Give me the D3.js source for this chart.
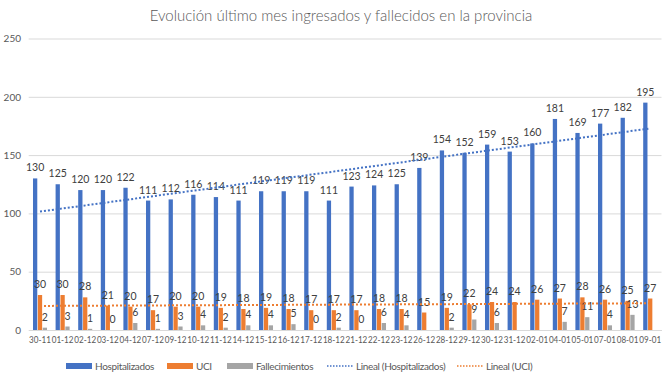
<!DOCTYPE html>
<html>
<head>
<meta charset="utf-8">
<script src="https://cdn.jsdelivr.net/npm/d3@7"></script>
<style>
    body { margin: 0; background: #fff; }
    svg { display: block; font-family: Lato, "Liberation Sans", sans-serif; }
</style>
</head>
<body>
<svg id="chart" width="670" height="377"></svg>
<script>
const fechas = ["30-11","01-12","02-12","03-12","04-12","07-12","09-12","10-12","11-12","14-12",
    "15-12","16-12","17-12","18-12","21-12","22-12","23-12","26-12","28-12","29-12",
    "30-12","31-12","02-01","04-01","05-01","07-01","08-01","09-01"];
const hospitalizados = [130,125,120,120,122,111,112,116,114,111,119,119,119,111,123,124,125,139,154,152,159,153,160,181,169,177,182,195];
const uci = [30,30,28,21,20,17,20,20,19,18,19,18,17,17,17,18,18,15,19,22,24,24,26,27,28,26,25,27];
const fallecimientos = [2,3,1,0,6,1,3,4,2,4,4,5,0,2,0,6,4,null,2,9,6,null,null,7,11,4,13,null];
const yTicks = [0,50,100,150,200,250];

const series = [
    {name: "Hospitalizados", values: hospitalizados, color: "#4472C4"},
    {name: "UCI", values: uci, color: "#ED7D31"},
    {name: "Fallecimientos", values: fallecimientos, color: "#A5A5A5"}
];

const svg = d3.select('#chart');
const TEXT = "#595959";

svg.append('text')
    .attr('x', 341).attr('y', 21)
    .attr('text-anchor', 'middle')
    .attr('font-size', '15px')
    .attr('font-weight', 300)
    .attr('fill', TEXT)
    .text('Evolución último mes ingresados y fallecidos en la provincia');

const x0 = d3.scaleBand().domain(fechas).range([28.7, 661.5]).paddingInner(0.38).paddingOuter(0.19);
const x1 = d3.scaleBand().domain(series.map(s => s.name)).range([0, x0.bandwidth()]).paddingInner(0.12);
const y = d3.scaleLinear().domain([0, 250]).range([330, 38.5]);

// grid
svg.append('g')
    .selectAll('line')
    .data(yTicks)
    .enter()
    .append('line')
    .attr('x1', 28.7).attr('x2', 661.5)
    .attr('y1', d => y(d) + 0.5).attr('y2', d => y(d) + 0.5)
    .attr('stroke', '#D9D9D9');

const yAxis = svg.append('g')
    .attr('transform', 'translate(21,0)')
    .call(d3.axisLeft(y).tickValues(yTicks).tickSize(0).tickPadding(0));
yAxis.select('.domain').remove();
yAxis.selectAll('text').attr('fill', TEXT).attr('font-size', '10px').attr('font-family', 'Lato');

const xAxis = svg.append('g')
    .attr('transform', 'translate(0,330)')
    .call(d3.axisBottom(x0).tickSize(0).tickPadding(6).tickSizeOuter(0));
xAxis.select('.domain').attr('stroke', '#D9D9D9');
xAxis.selectAll('text')
    .attr('fill', TEXT).attr('font-size', '10px').attr('font-family', 'Lato')
    .attr('textLength', x0.step() - 0.8).attr('lengthAdjust', 'spacingAndGlyphs');

// bars
const groups = svg.append('g')
    .selectAll('g')
    .data(series)
    .enter()
    .append('g')
    .attr('fill', s => s.color);

groups.selectAll('rect')
    .data(s => s.values.map((v, i) => ({s: s.name, f: fechas[i], v})).filter(d => d.v !== null))
    .enter()
    .append('rect')
    .attr('x', d => x0(d.f) + x1(d.s))
    .attr('width', x1.bandwidth())
    .attr('y', d => y(d.v))
    .attr('height', d => y(0) - y(d.v));

// linear trend lines
function trend(values) {
    const n = values.length;
    const xs = d3.range(1, n + 1);
    const mx = d3.mean(xs), my = d3.mean(values);
    const b = d3.sum(xs, (xi, i) => (xi - mx) * (values[i] - my)) / d3.sum(xs, xi => (xi - mx) * (xi - mx));
    const a = my - b * mx;
    return [{f: fechas[0], v: a + b}, {f: fechas[n - 1], v: a + b * n}];
}
const center = f => x0(f) + x0.bandwidth() / 2;
const line = d3.line().x(d => center(d.f)).y(d => y(d.v));

[{values: hospitalizados, color: "#4472C4"}, {values: uci, color: "#ED7D31"}].forEach(t => {
    svg.append('path')
        .datum(trend(t.values))
        .attr('d', line)
        .attr('fill', 'none')
        .attr('stroke', t.color)
        .attr('stroke-width', 2)
        .attr('stroke-dasharray', '2,2');
});

// data labels
groups.each(function(s) {
    d3.select(this).selectAll('text')
        .data(s.values.map((v, i) => ({s: s.name, f: fechas[i], v})).filter(d => d.v !== null))
        .enter()
        .append('text')
        .attr('x', d => x0(d.f) + x1(d.s) + x1.bandwidth() / 2)
        .attr('y', d => y(d.v) - 7)
        .attr('text-anchor', 'middle')
        .attr('font-size', '10.5px')
        .attr('fill', '#404040')
        .text(d => d.v);
});

// legend
const legendItems = [
    {name: "Hospitalizados", color: "#4472C4", type: "rect", x: 66},
    {name: "UCI", color: "#ED7D31", type: "rect", x: 167},
    {name: "Fallecimientos", color: "#A5A5A5", type: "rect", x: 227},
    {name: "Lineal (Hospitalizados)", color: "#4472C4", type: "line", x: 327},
    {name: "Lineal (UCI)", color: "#ED7D31", type: "line", x: 457}
];
const legend = svg.append('g')
    .selectAll('g')
    .data(legendItems)
    .enter()
    .append('g')
    .attr('transform', d => `translate(${d.x},366)`);

legend.filter(d => d.type === 'rect')
    .append('rect')
    .attr('x', 0).attr('y', -3).attr('width', 26).attr('height', 6)
    .attr('fill', d => d.color);
legend.filter(d => d.type === 'line')
    .append('line')
    .attr('x1', 0).attr('x2', 26).attr('y1', 0).attr('y2', 0)
    .attr('stroke', d => d.color).attr('stroke-width', 1.5).attr('stroke-dasharray', '1.5,1.5');
legend.append('text')
    .attr('x', 29).attr('y', 0).attr('dy', '0.35em')
    .attr('font-size', '10px')
    .attr('letter-spacing', '-0.35px')
    .attr('fill', TEXT)
    .text(d => d.name);
</script>
</body>
</html>
